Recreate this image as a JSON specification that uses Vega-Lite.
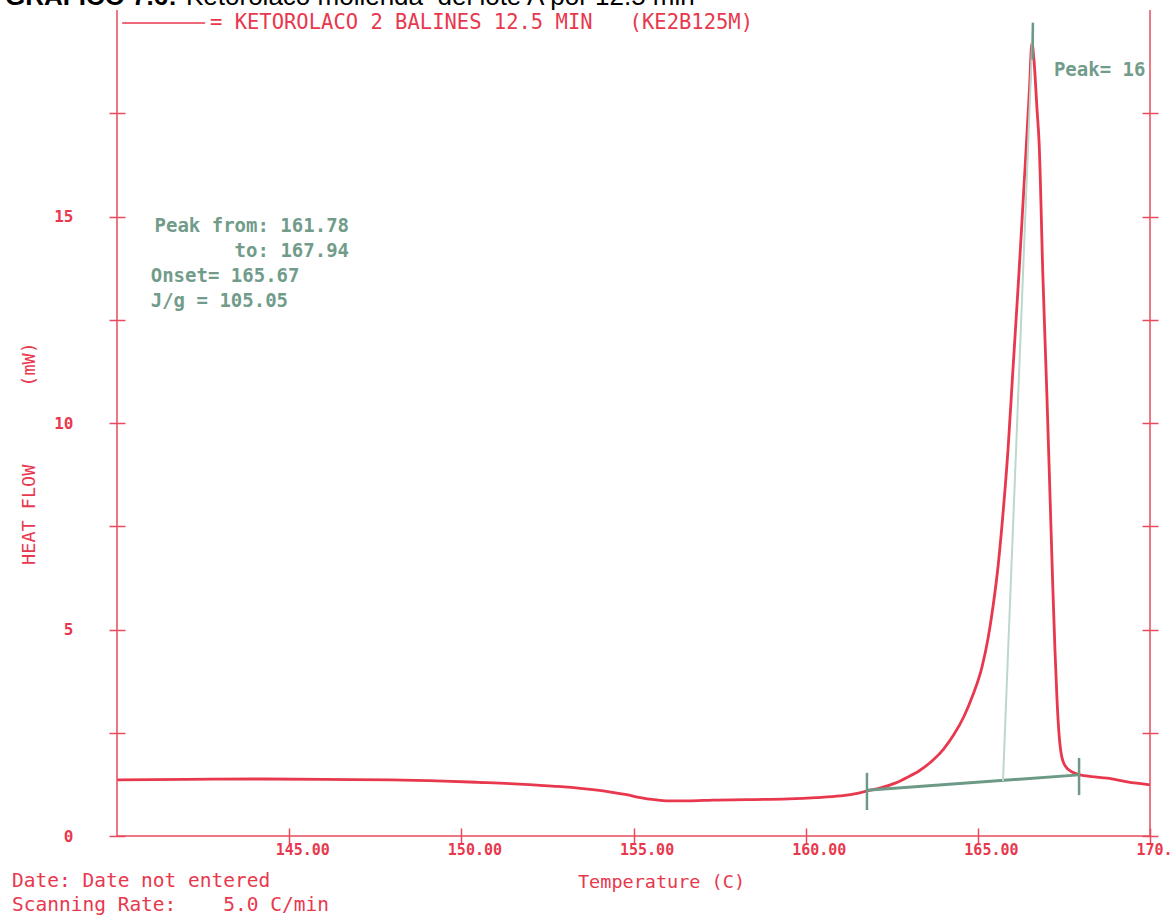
{
  "$schema": "https://vega.github.io/schema/vega-lite/v6.json",
  "width": 1033,
  "height": 826,
  "autosize": {"type": "none"},
  "padding": {"left": 117, "top": 10, "right": 23, "bottom": 80},
  "background": "white",
  "config": {
    "view": {"stroke": null},
    "axis": {"grid": false, "labelFlush": false, "labelOverlap": false, "labelBound": false},
    "text": {"font": "DejaVu Sans Mono"}
  },
  "datasets": {
    "curve": [
      {"T": 140.0, "mW": 1.36}, {"T": 142.0, "mW": 1.37}, {"T": 144.0, "mW": 1.38}, {"T": 146.0, "mW": 1.37},
      {"T": 148.0, "mW": 1.36}, {"T": 149.5, "mW": 1.33}, {"T": 150.5, "mW": 1.3}, {"T": 151.4, "mW": 1.27},
      {"T": 152.2, "mW": 1.23}, {"T": 152.8, "mW": 1.2}, {"T": 153.6, "mW": 1.14}, {"T": 154.3, "mW": 1.07},
      {"T": 154.8, "mW": 1.0}, {"T": 155.2, "mW": 0.93}, {"T": 155.6, "mW": 0.88}, {"T": 156.0, "mW": 0.85},
      {"T": 156.6, "mW": 0.85}, {"T": 157.3, "mW": 0.87}, {"T": 158.3, "mW": 0.88}, {"T": 159.5, "mW": 0.9},
      {"T": 160.3, "mW": 0.93}, {"T": 161.0, "mW": 0.97}, {"T": 161.5, "mW": 1.03}, {"T": 161.78, "mW": 1.09},
      {"T": 162.2, "mW": 1.17}, {"T": 162.6, "mW": 1.28}, {"T": 162.95, "mW": 1.42}, {"T": 163.3, "mW": 1.58},
      {"T": 163.7, "mW": 1.84}, {"T": 164.0, "mW": 2.1}, {"T": 164.3, "mW": 2.45}, {"T": 164.6, "mW": 2.9},
      {"T": 164.85, "mW": 3.4}, {"T": 165.12, "mW": 4.09}, {"T": 165.3, "mW": 4.8}, {"T": 165.44, "mW": 5.55},
      {"T": 165.59, "mW": 6.55}, {"T": 165.73, "mW": 7.8}, {"T": 165.88, "mW": 9.4}, {"T": 166.02, "mW": 11.3},
      {"T": 166.2, "mW": 13.7}, {"T": 166.4, "mW": 16.6}, {"T": 166.5, "mW": 18.1}, {"T": 166.57, "mW": 19.2},
      {"T": 166.63, "mW": 18.79}, {"T": 166.72, "mW": 17.58}, {"T": 166.78, "mW": 16.78}, {"T": 166.89, "mW": 13.54},
      {"T": 167.01, "mW": 10.56}, {"T": 167.1, "mW": 8.14}, {"T": 167.18, "mW": 5.96}, {"T": 167.24, "mW": 4.5},
      {"T": 167.3, "mW": 3.29}, {"T": 167.36, "mW": 2.45}, {"T": 167.44, "mW": 1.91}, {"T": 167.56, "mW": 1.67},
      {"T": 167.74, "mW": 1.55}, {"T": 167.97, "mW": 1.48},
      {"T": 168.3, "mW": 1.44}, {"T": 168.76, "mW": 1.4}, {"T": 169.34, "mW": 1.31}, {"T": 170.0, "mW": 1.24}
    ],
    "segments": [
      {"kind": "baseline", "xa": 161.78, "ya": 1.11, "xb": 167.94, "yb": 1.48},
      {"kind": "tick", "xa": 161.78, "ya": 0.63, "xb": 161.78, "yb": 1.53},
      {"kind": "tick", "xa": 167.94, "ya": 0.99, "xb": 167.94, "yb": 1.89},
      {"kind": "peakline", "xa": 165.73, "ya": 1.33, "xb": 166.6, "yb": 19.69},
      {"kind": "peaktop", "xa": 166.59, "ya": 18.8, "xb": 166.6, "yb": 19.69},
      {"kind": "legend", "xa": 140.15, "ya": 19.685, "xb": 142.56, "yb": 19.685}
    ],
    "notes": [
      {"group": "capbold", "T": 136.747, "v": 20.12, "text": "GRAFICO 7.6:"},
      {"group": "capreg", "T": 142.004, "v": 20.12, "text": "Ketorolaco molienda\u00a0 del lote A por 12.5 min"},
      {"group": "legend", "T": 142.7, "v": 19.685, "text": "= KETOROLACO 2 BALINES 12.5 MIN\u00a0\u00a0 (KE2B125M)"},
      {"group": "footer", "T": 136.95, "v": -1.09, "text": "Date: Date not entered"},
      {"group": "footer", "T": 136.95, "v": -1.67, "text": "Scanning Rate:\u00a0\u00a0\u00a0 5.0 C/min"},
      {"group": "greenright", "T": 146.738, "v": 14.77, "text": "Peak from: 161.78"},
      {"group": "greenright", "T": 146.738, "v": 14.165, "text": "to: 167.94"},
      {"group": "greenleft", "T": 140.98, "v": 13.56, "text": "Onset= 165.67"},
      {"group": "greenleft", "T": 140.98, "v": 12.95, "text": "J/g = 105.05"},
      {"group": "greenleft", "T": 167.21, "v": 18.55, "text": "Peak= 16"}
    ]
  },
  "resolve": {"axis": {"y": "independent"}},
  "layer": [
    {
      "data": {"name": "curve"},
      "mark": {"type": "line", "color": "#e8384e", "strokeWidth": 2.8, "interpolate": "monotone"},
      "encoding": {
        "x": {
          "field": "T", "type": "quantitative",
          "scale": {"domain": [140, 170], "nice": false, "zero": false},
          "axis": {
            "orient": "bottom", "values": [145, 150, 155, 160, 165, 170], "format": ".2f",
            "domain": false, "offset": -8, "tickSize": 16, "tickColor": "#e84a5e", "tickWidth": 1.5,
            "labelFont": "DejaVu Sans Mono", "labelFontWeight": "bold", "labelFontSize": 15, "labelColor": "#e8384e",
            "labelAlign": "left", "labelOffset": -14, "labelPadding": -2, "labelBaseline": "top",
            "title": "Temperature (C)", "titleFont": "DejaVu Sans Mono", "titleFontWeight": "normal", "titleFontSize": 18.5,
            "titleColor": "#e8384e", "titleX": 544, "titleY": 53, "titleAlign": "center", "titleBaseline": "middle"
          }
        },
        "y": {
          "field": "mW", "type": "quantitative",
          "scale": {"domain": [0, 20], "nice": false, "zero": false},
          "axis": {
            "orient": "left", "values": [0, 2.5, 5, 7.5, 10, 12.5, 15, 17.5],
            "labelExpr": "datum.value % 5 === 0 ? format(datum.value, 'd') : ''",
            "domain": false, "offset": -8, "tickSize": 16, "tickColor": "#e84a5e", "tickWidth": 1.5,
            "labelFont": "DejaVu Sans Mono", "labelFontWeight": "bold", "labelFontSize": 16, "labelColor": "#e8384e",
            "labelPadding": 36, "labelAlign": "right", "labelBaseline": "middle",
            "title": "HEAT FLOW\u00a0\u00a0\u00a0\u00a0\u00a0\u00a0\u00a0(mW)", "titleFont": "DejaVu Sans Mono", "titleFontWeight": "normal",
            "titleFontSize": 18.5, "titleColor": "#e8384e", "titleAngle": 270, "titleX": -97, "titleY": 443,
            "titleAlign": "center", "titleBaseline": "middle"
          }
        }
      }
    },
    {
      "data": {"name": "segments"},
      "transform": [{"filter": "datum.kind === 'baseline'"}],
      "mark": {"type": "rule", "color": "#6c9a87", "strokeWidth": 3},
      "encoding": {
        "x": {"field": "xa", "type": "quantitative"},
        "x2": {"field": "xb"},
        "y": {"field": "ya", "type": "quantitative",
          "axis": {"orient": "right", "values": [0, 2.5, 5, 7.5, 10, 12.5, 15, 17.5], "labels": false, "domain": false,
            "offset": -8, "tickSize": 16, "tickColor": "#e84a5e", "tickWidth": 1.5, "title": null}},
        "y2": {"field": "yb"}
      }
    },
    {
      "data": {"name": "segments"},
      "transform": [{"filter": "datum.kind === 'peakline'"}],
      "mark": {"type": "rule", "color": "#bcd8cb", "strokeWidth": 2},
      "encoding": {
        "x": {"field": "xa", "type": "quantitative"},
        "x2": {"field": "xb"},
        "y": {"field": "ya", "type": "quantitative", "axis": null},
        "y2": {"field": "yb"}
      }
    },
    {
      "data": {"name": "segments"},
      "transform": [{"filter": "datum.kind === 'tick' || datum.kind === 'peaktop'"}],
      "mark": {"type": "rule", "color": "#6f9886", "strokeWidth": 2.5},
      "encoding": {
        "x": {"field": "xa", "type": "quantitative"},
        "x2": {"field": "xb"},
        "y": {"field": "ya", "type": "quantitative", "axis": null},
        "y2": {"field": "yb"}
      }
    },
    {
      "data": {"name": "segments"},
      "transform": [{"filter": "datum.kind === 'legend'"}],
      "mark": {"type": "rule", "color": "#e8384e", "strokeWidth": 1.5},
      "encoding": {
        "x": {"field": "xa", "type": "quantitative"},
        "x2": {"field": "xb"},
        "y": {"field": "ya", "type": "quantitative", "axis": null},
        "y2": {"field": "yb"}
      }
    },
    {
      "data": {"values": [{}]},
      "mark": {"type": "rule", "color": "#e84a5e", "strokeWidth": 1.5},
      "encoding": {"x": {"datum": 140, "type": "quantitative"}}
    },
    {
      "data": {"values": [{}]},
      "mark": {"type": "rule", "color": "#e84a5e", "strokeWidth": 1.5},
      "encoding": {"x": {"datum": 170, "type": "quantitative"}}
    },
    {
      "data": {"values": [{}]},
      "mark": {"type": "rule", "color": "#e84a5e", "strokeWidth": 1.5},
      "encoding": {"y": {"datum": 0, "type": "quantitative", "axis": null}}
    },
    {
      "data": {"name": "notes"},
      "transform": [{"filter": "datum.group === 'capbold'"}],
      "mark": {"type": "text", "font": "Liberation Sans", "fontWeight": "bold", "fontSize": 26, "align": "left", "baseline": "alphabetic", "color": "#000000"},
      "encoding": {
        "x": {"field": "T", "type": "quantitative"},
        "y": {"field": "v", "type": "quantitative", "axis": null},
        "text": {"field": "text"}
      }
    },
    {
      "data": {"name": "notes"},
      "transform": [{"filter": "datum.group === 'capreg'"}],
      "mark": {"type": "text", "font": "Liberation Sans", "fontSize": 26, "align": "left", "baseline": "alphabetic", "color": "#000000"},
      "encoding": {
        "x": {"field": "T", "type": "quantitative"},
        "y": {"field": "v", "type": "quantitative", "axis": null},
        "text": {"field": "text"}
      }
    },
    {
      "data": {"name": "notes"},
      "transform": [{"filter": "datum.group === 'legend'"}],
      "mark": {"type": "text", "font": "DejaVu Sans Mono", "fontSize": 20.5, "align": "left", "baseline": "middle", "color": "#e8384e"},
      "encoding": {
        "x": {"field": "T", "type": "quantitative"},
        "y": {"field": "v", "type": "quantitative", "axis": null},
        "text": {"field": "text"}
      }
    },
    {
      "data": {"name": "notes"},
      "transform": [{"filter": "datum.group === 'footer'"}],
      "mark": {"type": "text", "font": "DejaVu Sans Mono", "fontSize": 19.5, "align": "left", "baseline": "middle", "color": "#e8384e"},
      "encoding": {
        "x": {"field": "T", "type": "quantitative"},
        "y": {"field": "v", "type": "quantitative", "axis": null},
        "text": {"field": "text"}
      }
    },
    {
      "data": {"name": "notes"},
      "transform": [{"filter": "datum.group === 'greenright'"}],
      "mark": {"type": "text", "font": "DejaVu Sans Mono", "fontSize": 19, "fontWeight": "bold", "align": "right", "baseline": "middle", "color": "#729c8a"},
      "encoding": {
        "x": {"field": "T", "type": "quantitative"},
        "y": {"field": "v", "type": "quantitative", "axis": null},
        "text": {"field": "text"}
      }
    },
    {
      "data": {"name": "notes"},
      "transform": [{"filter": "datum.group === 'greenleft'"}],
      "mark": {"type": "text", "font": "DejaVu Sans Mono", "fontSize": 19, "fontWeight": "bold", "align": "left", "baseline": "middle", "color": "#729c8a"},
      "encoding": {
        "x": {"field": "T", "type": "quantitative"},
        "y": {"field": "v", "type": "quantitative", "axis": null},
        "text": {"field": "text"}
      }
    }
  ]
}
